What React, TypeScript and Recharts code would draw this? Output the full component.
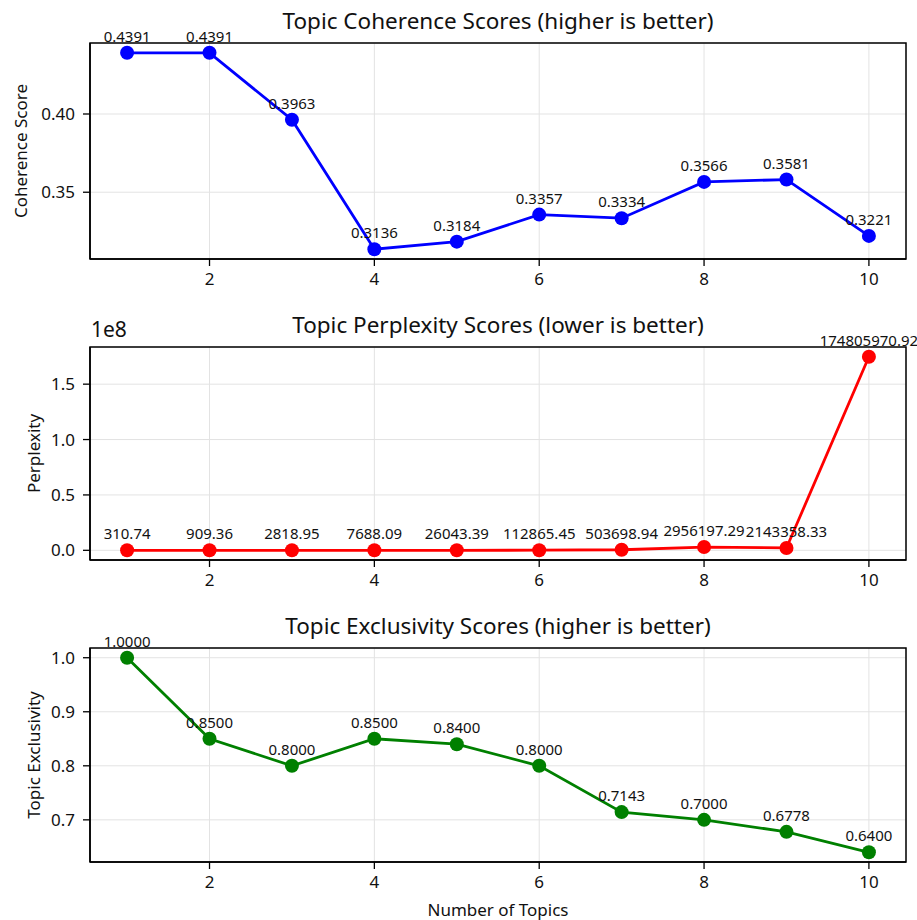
import React from 'react';
import { LineChart, Line, XAxis, YAxis, CartesianGrid, LabelList, Label, ReferenceArea } from 'recharts';

const topics = [1, 2, 3, 4, 5, 6, 7, 8, 9, 10];
const coherence = [0.4391, 0.4391, 0.3963, 0.3136, 0.3184, 0.3357, 0.3334, 0.3566, 0.3581, 0.3221];
const perplexity = [
  310.74, 909.36, 2818.95, 7688.09, 26043.39, 112865.45, 503698.94, 2956197.29, 2143358.33, 174805970.92,
];
const exclusivity = [1.0, 0.85, 0.8, 0.85, 0.84, 0.8, 0.7143, 0.7, 0.6778, 0.64];

const xTicks = [2, 4, 6, 8, 10];
const coherenceTicks = [0.35, 0.4];
const perplexityTicks = [0, 0.5e8, 1e8, 1.5e8];
const exclusivityTicks = [0.7, 0.8, 0.9, 1.0];

const FONT = "'Noto Sans', sans-serif";
const W = 917;
const PLOT_LEFT = 90;
const PLOT_RIGHT = 906;
const TOP_PAD = 43;

// matplotlib-style 5% margins
const padded = (vals: number[]): [number, number] => {
  const lo = Math.min(...vals);
  const hi = Math.max(...vals);
  const m = (hi - lo) * 0.05;
  return [lo - m, hi + m];
};
const xDomain: [number, number] = [0.55, 10.45];

interface PanelProps {
  values: number[];
  color: string;
  title: string;
  yLabel: string;
  yLabelX: number;
  ticks: number[];
  tickFmt: (v: number) => string;
  valueFmt: (v: number) => string;
  plotTop: number;
  plotHeight: number;
  xLabel?: string;
  offsetText?: string;
}

function Panel({
  values, color, title, yLabel, yLabelX, ticks, tickFmt, valueFmt, plotTop, plotHeight, xLabel, offsetText,
}: PanelProps) {
  const data = topics.map((k, i) => ({ k, v: values[i] }));
  const yDomain = padded(values);
  const height = TOP_PAD + plotHeight + 62;
  const top = plotTop - TOP_PAD;
  const tickStyle = { fill: '#111', fontSize: 17, fontFamily: FONT };

  return (
    <div style={{ position: 'absolute', left: 0, top, width: W, height }}>
      <div
        style={{
          position: 'absolute', left: PLOT_LEFT, width: PLOT_RIGHT - PLOT_LEFT, top: 6,
          textAlign: 'center', fontSize: 22.5, lineHeight: '30px', color: '#111', fontFamily: FONT,
        }}
      >
        {title}
      </div>
      {offsetText && (
        <div style={{ position: 'absolute', left: 91, top: 12, fontSize: 21, lineHeight: '26px', color: '#111', fontFamily: FONT }}>
          {offsetText}
        </div>
      )}
      <LineChart
        width={W}
        height={height}
        data={data}
        margin={{ top: TOP_PAD, right: W - PLOT_RIGHT, bottom: 0, left: 0 }}
        style={{ position: 'absolute', left: 0, top: 0 }}
      >
        <CartesianGrid stroke="#e3e3e3" strokeWidth={1} />
        <XAxis
          dataKey="k"
          type="number"
          domain={xDomain}
          ticks={xTicks}
          allowDataOverflow
          height={62}
          tick={tickStyle}
          tickSize={7}
          tickMargin={7}
          axisLine={{ stroke: '#000', strokeWidth: 1.5 }}
          tickLine={{ stroke: '#000', strokeWidth: 1.3 }}
        >
          {xLabel && (
            <Label
              content={({ viewBox }: any) => (
                <text
                  x={viewBox.x + viewBox.width / 2}
                  y={viewBox.y + 54}
                  textAnchor="middle"
                  fontSize={17}
                  fill="#111"
                  fontFamily={FONT}
                >
                  {xLabel}
                </text>
              )}
            />
          )}
        </XAxis>
        <YAxis
          type="number"
          domain={yDomain}
          ticks={ticks}
          allowDataOverflow
          width={PLOT_LEFT}
          tick={tickStyle}
          tickFormatter={tickFmt}
          tickSize={7}
          tickMargin={8}
          axisLine={{ stroke: '#000', strokeWidth: 1.5 }}
          tickLine={{ stroke: '#000', strokeWidth: 1.3 }}
        >
          <Label
            content={({ viewBox }: any) => {
              const cy = viewBox.y + viewBox.height / 2;
              return (
                <text
                  x={yLabelX}
                  y={cy}
                  transform={`rotate(-90, ${yLabelX}, ${cy})`}
                  textAnchor="middle"
                  dominantBaseline="central"
                  fontSize={17}
                  fill="#111"
                  fontFamily={FONT}
                >
                  {yLabel}
                </text>
              );
            }}
          />
        </YAxis>
        <ReferenceArea
          x1={xDomain[0]}
          x2={xDomain[1]}
          y1={yDomain[0]}
          y2={yDomain[1]}
          fill="none"
          fillOpacity={0}
          stroke="#000"
          strokeWidth={1.5}
          ifOverflow="visible"
        />
        <Line
          dataKey="v"
          stroke={color}
          strokeWidth={2.8}
          dot={{ r: 7, fill: color, stroke: color, strokeWidth: 0 }}
          activeDot={false}
          isAnimationActive={false}
        >
          <LabelList
            dataKey="v"
            content={(p: any) => (
              <text x={p.x} y={p.y - 11} textAnchor="middle" fontSize={15} fill="#111" fontFamily={FONT}>
                {valueFmt(Number(p.value))}
              </text>
            )}
          />
        </Line>
      </LineChart>
    </div>
  );
}

export default function App() {
  return (
    <div style={{ position: 'absolute', left: 0, top: 0, width: W, height: 920, background: '#fff', fontFamily: FONT }}>
      <Panel
        values={coherence}
        color="#0000ff"
        title="Topic Coherence Scores (higher is better)"
        yLabel="Coherence Score"
        yLabelX={20}
        ticks={coherenceTicks}
        tickFmt={(v) => v.toFixed(2)}
        valueFmt={(v) => v.toFixed(4)}
        plotTop={43}
        plotHeight={216}
      />
      <Panel
        values={perplexity}
        color="#ff0000"
        title="Topic Perplexity Scores (lower is better)"
        yLabel="Perplexity"
        yLabelX={33}
        ticks={perplexityTicks}
        tickFmt={(v) => (v / 1e8).toFixed(1)}
        valueFmt={(v) => v.toFixed(2)}
        plotTop={347}
        plotHeight={213}
        offsetText="1e8"
      />
      <Panel
        values={exclusivity}
        color="#008000"
        title="Topic Exclusivity Scores (higher is better)"
        yLabel="Topic Exclusivity"
        yLabelX={33}
        ticks={exclusivityTicks}
        tickFmt={(v) => v.toFixed(1)}
        valueFmt={(v) => v.toFixed(4)}
        plotTop={648}
        plotHeight={214}
        xLabel="Number of Topics"
      />
    </div>
  );
}
